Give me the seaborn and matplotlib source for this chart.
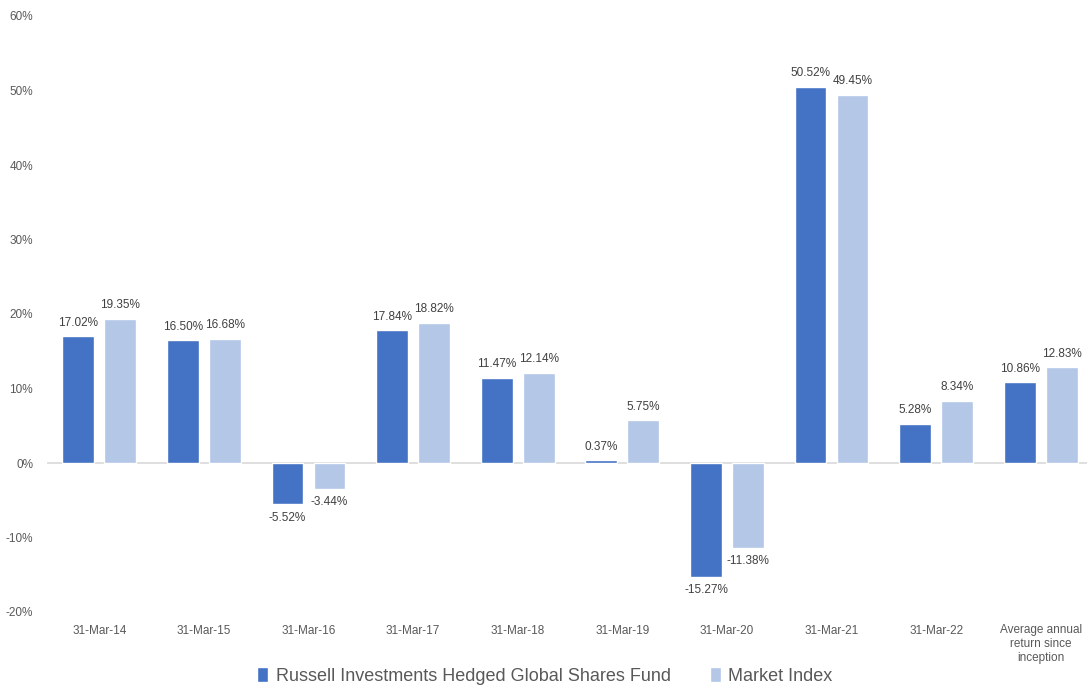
import pandas as pd
import matplotlib
matplotlib.use("Agg")
import matplotlib.pyplot as plt
import seaborn as sns

# Dados do gráfico
categorias = ["31-Mar-14", "31-Mar-15", "31-Mar-16", "31-Mar-17", "31-Mar-18",
              "31-Mar-19", "31-Mar-20", "31-Mar-21", "31-Mar-22",
              "Average annual\nreturn since\ninception"]
fundo = [17.02, 16.50, -5.52, 17.84, 11.47, 0.37, -15.27, 50.52, 5.28, 10.86]
indice = [19.35, 16.68, -3.44, 18.82, 12.14, 5.75, -11.38, 49.45, 8.34, 12.83]
series = ["Russell Investments Hedged Global Shares Fund", "Market Index"]
ticks_y = [-20, -10, 0, 10, 20, 30, 40, 50, 60]

df = pd.DataFrame({
    "categoria": categorias * 2,
    "valor": fundo + indice,
    "serie": [series[0]] * len(fundo) + [series[1]] * len(indice),
})

sns.set_style("white")
plt.rcParams["font.family"] = ["Liberation Sans", "DejaVu Sans"]

fig = plt.figure(figsize=(10.87, 6.86), dpi=100)
ax = fig.add_axes([47 / 1087, 1 - 612 / 686, 1046 / 1087, 596 / 686])

cores = ["#4472C4", "#B4C7E7"]
sns.barplot(data=df, x="categoria", y="valor", hue="serie", palette=cores,
            width=0.8, gap=0.24, saturation=1, ax=ax, legend=True)

ax.set_ylim(-20, 60)
ax.set_yticks(ticks_y)
ax.set_yticklabels([f"{t}%" for t in ticks_y])
ax.axhline(0, color="#D9D9D9", lw=1.2, zorder=0)
for s in ax.spines.values():
    s.set_visible(False)
ax.tick_params(axis="both", length=0, labelsize=8.5, colors="#595959")
ax.tick_params(axis="y", pad=10)
ax.tick_params(axis="x", pad=9)
ax.set_xlabel("")
ax.set_ylabel("")

# Rótulos de dados
for cont in ax.containers:
    for barra in cont:
        v = barra.get_height()
        x = barra.get_x() + barra.get_width() / 2
        if v >= 0:
            ax.text(x, v + 1.0, f"{v:.2f}%", ha="center", va="bottom",
                    fontsize=8.5, color="#404040")
        else:
            ax.text(x, v - 1.0, f"{v:.2f}%", ha="center", va="top",
                    fontsize=8.5, color="#404040")

handles, labels = ax.get_legend_handles_labels()
ax.legend(handles, labels, loc="center", bbox_to_anchor=(545 / 1087, 1 - 676 / 686),
          bbox_transform=fig.transFigure, ncol=2, frameon=False, fontsize=13,
          handlelength=0.6, handleheight=0.9, handletextpad=0.4, columnspacing=2.2,
          labelcolor="#595959")

fig.savefig("out.png", dpi=100)
